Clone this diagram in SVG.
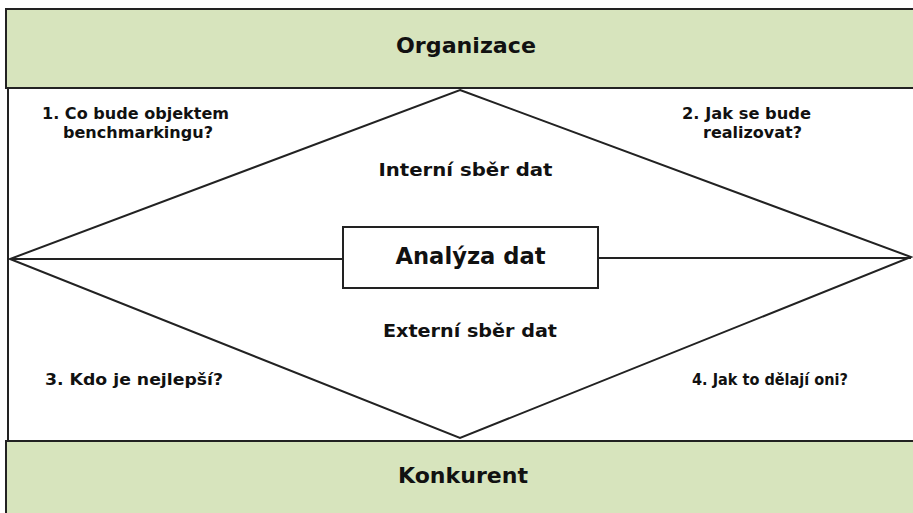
<svg xmlns="http://www.w3.org/2000/svg" width="913" height="513" viewBox="0 0 913 513">
<style>
.band{fill:#d7e4bd;stroke:#222;stroke-width:2}
.t{font-family:"DejaVu Sans",Verdana,sans-serif;font-weight:bold;fill:#111;text-anchor:middle}
.ln{stroke:#222;stroke-width:2;fill:none}
</style>
<rect x="0" y="0" width="913" height="513" fill="#fff"/>
<g id="middle-area">
<line class="ln" x1="8" y1="88" x2="8" y2="441"/>
</g>
<g id="organizace">
<rect class="band" x="6" y="9" width="912" height="79"/>
<text class="t" x="466" y="53" font-size="22" textLength="140" lengthAdjust="spacingAndGlyphs">Organizace</text>
</g>
<g id="konkurent">
<rect class="band" x="6" y="441" width="912" height="80"/>
<text class="t" x="463" y="483" font-size="22" textLength="130" lengthAdjust="spacingAndGlyphs">Konkurent</text>
</g>
<g id="connectors">
<polygon class="ln" points="460,90 911,257 460,438 10,259"/>
<line class="ln" x1="10" y1="259" x2="343" y2="259" stroke-width="2.5"/>
<line class="ln" x1="598" y1="258" x2="911" y2="258" stroke-width="2.5"/>
</g>
<g id="analyza">
<rect x="343" y="227" width="255" height="61" fill="#fff" stroke="#222" stroke-width="2"/>
<text class="t" x="470.5" y="264" font-size="23" textLength="150" lengthAdjust="spacingAndGlyphs">Analýza dat</text>
</g>
<g id="interni">
<text class="t" x="465.5" y="176" font-size="18" textLength="174" lengthAdjust="spacingAndGlyphs">Interní sběr dat</text>
</g>
<g id="externi">
<text class="t" x="470" y="337" font-size="18" textLength="174" lengthAdjust="spacingAndGlyphs">Externí sběr dat</text>
</g>
<g id="q1">
<text class="t" x="135.5" y="119" font-size="15.5" textLength="187" lengthAdjust="spacingAndGlyphs">1. Co bude objektem</text>
<text class="t" x="138" y="138" font-size="15.5" textLength="150" lengthAdjust="spacingAndGlyphs">benchmarkingu?</text>
</g>
<g id="q2">
<text class="t" x="746.5" y="119" font-size="15.5" textLength="129" lengthAdjust="spacingAndGlyphs">2. Jak se bude</text>
<text class="t" x="752.5" y="138" font-size="15.5" textLength="99" lengthAdjust="spacingAndGlyphs">realizovat?</text>
</g>
<g id="q3">
<text class="t" x="134" y="385" font-size="16" textLength="178" lengthAdjust="spacingAndGlyphs">3. Kdo je nejlepší?</text>
</g>
<g id="q4">
<text class="t" x="770" y="385" font-size="16" textLength="156" lengthAdjust="spacingAndGlyphs">4. Jak to dělají oni?</text>
</g>
</svg>
